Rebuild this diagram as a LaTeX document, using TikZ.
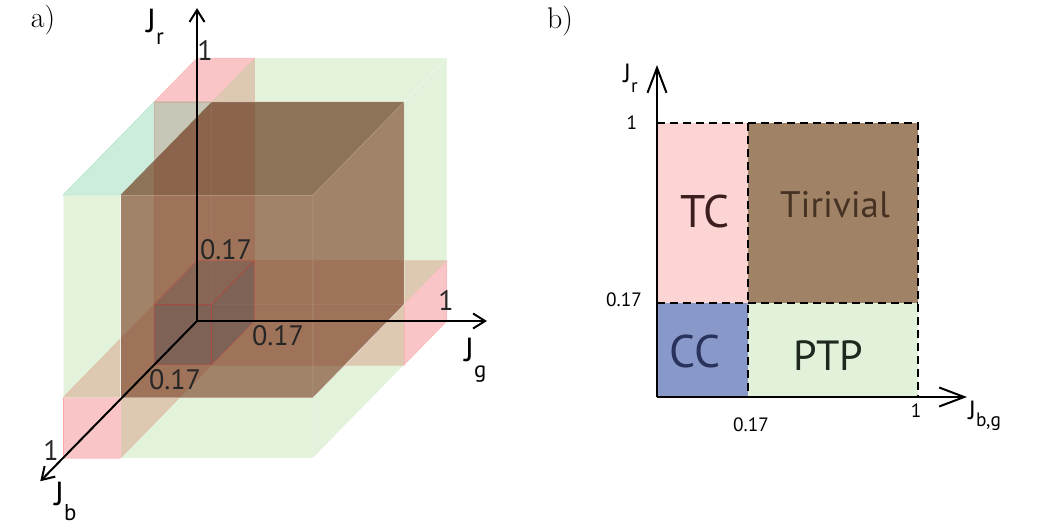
\documentclass[tikz,border=0pt]{standalone}
\usepackage{fontspec}
\newfontfamily\labelfont{PT Sans}
\usetikzlibrary{arrows.meta}

\definecolor{tcpink}{RGB}{252,212,212}
\definecolor{ccblue}{RGB}{136,152,200}
\definecolor{trivbrown}{RGB}{160,131,102}
\definecolor{ptpgreen}{RGB}{226,242,218}
\definecolor{tcbase}{RGB}{240,110,115}
\definecolor{ptpbase}{RGB}{150,210,125}
\definecolor{ptpcyan}{RGB}{100,200,150}
\definecolor{ccbase}{RGB}{55,58,80}
\definecolor{trivfrontc}{RGB}{125,71,43}
\definecolor{trivtopc}{RGB}{97,48,21}
\definecolor{tctext}{RGB}{60,30,30}
\definecolor{trivtext}{RGB}{70,50,35}
\definecolor{cctext}{RGB}{40,50,90}
\definecolor{ptptext}{RGB}{30,40,30}

% cut values of the couplings, as drawn
\newcommand{\cutb}{0.32}
\newcommand{\cutg}{0.23}
\newcommand{\cutr}{0.23}

% visible faces of a box: front, top and right styles, then b0,b1,g0,g1,r0,r1
\newcommand{\phasebox}[9]{%
  \path[#1] (#5,#6,#8) -- (#5,#7,#8) -- (#5,#7,#9) -- (#5,#6,#9) -- cycle;
  \path[#2] (#4,#6,#9) -- (#4,#7,#9) -- (#5,#7,#9) -- (#5,#6,#9) -- cycle;
  \path[#3] (#4,#7,#8) -- (#5,#7,#8) -- (#5,#7,#9) -- (#4,#7,#9) -- cycle;
}
% J with a lowered index: index, its size, how far down
\newcommand{\jsub}[3]{J\raisebox{-#3}{\fontsize{#2}{#2}\selectfont #1}}

\tikzset{
  tcface/.style={fill=tcbase, fill opacity=0.4, draw=red!60, draw opacity=0.3, line width=0.3pt},
  ptpface/.style={fill=ptpbase, fill opacity=0.28, draw=white, draw opacity=0.5, line width=0.3pt},
  ptptop/.style={fill=ptpcyan, fill opacity=0.33, draw=ptpcyan, draw opacity=0.4, line width=0.3pt},
  ccface/.style={fill=ccbase, fill opacity=0.3, draw=red!80, draw opacity=0.25, line width=0.4pt},
  cctop/.style={fill=ccbase, fill opacity=0.22, draw=red!80, draw opacity=0.25, line width=0.4pt},
  trivfront/.style={fill=trivfrontc, fill opacity=0.65, draw=white, draw opacity=0.25, line width=0.3pt},
  trivtop/.style={fill=trivtopc, fill opacity=0.65},
  axis3d/.style={line width=0.04cm, -{Straight Barb[length=0.24cm,width=0.3cm]}},
  axis2d/.style={line width=0.04cm, -{Straight Barb[length=0.5cm,width=0.38cm]}},
  phaseline/.style={line width=0.03cm, dash pattern=on 0.16cm off 0.1cm},
  ticklab/.style={font=\labelfont\fontsize{16}{16}\selectfont, text=black!85},
  axislab/.style={anchor=base west, inner sep=0pt, font=\labelfont\fontsize{19}{19}\selectfont},
  axislabb/.style={anchor=base west, inner sep=0pt, font=\labelfont\fontsize{15}{15}\selectfont},
  smalltick/.style={font=\labelfont\fontsize{11}{11}\selectfont},
  phasename/.style={inner sep=0pt}
}

\begin{document}
\begin{tikzpicture}[x=0.02cm, y=-0.02cm, every node/.style={font=\labelfont}]
\useasboundingbox (0,0) rectangle (1050,525);

% a) phase diagram in 3D
\node (alabel) at (43,20) {\rmfamily\fontsize{17}{17}\selectfont a)};
\begin{scope}[shift={(197,321)}, x={(-2.68cm,-2.74cm)}, y={(5cm,0cm)}, z={(0cm,5.26cm)}]
  \phasebox{tcface}{tcface}{tcface}{0}{\cutb}{0}{\cutg}{\cutr}{1}
  \phasebox{tcface}{tcface}{tcface}{0}{\cutb}{\cutg}{1}{0}{\cutr}
  \phasebox{tcface}{tcface}{tcface}{\cutb}{1}{0}{\cutg}{0}{\cutr}
  \phasebox{ptpface}{ptpface}{ptpface}{0}{\cutb}{\cutg}{1}{\cutr}{1}
  \phasebox{ptpface}{ptptop}{ptpface}{\cutb}{1}{0}{\cutg}{\cutr}{1}
  \phasebox{ptpface}{ptpface}{ptpface}{\cutb}{1}{\cutg}{1}{0}{\cutr}
  \phasebox{trivfront}{trivtop}{trivfront}{\cutb}{1}{\cutg}{1}{\cutr}{1}
  % CC corner, shaded over the rest
  \phasebox{ccface}{cctop}{ccface}{0}{\cutb}{0}{\cutg}{0}{\cutr}
  \coordinate (O) at (0,0,0);
  \coordinate (bTip) at (1.17,0,0);
  \coordinate (gTip) at (0,1.16,0);
  \coordinate (rTip) at (0,0,1.19);
\end{scope}
\draw[axis3d] (O) -- (rTip);
\draw[axis3d] (O) -- (gTip);
\draw[axis3d] (O) -- (bTip);
\node[axislab] (jr) at (146,32) {\jsub{r}{13}{0.38em}};
\node[axislab] (jg) at (464,361) {\jsub{g}{13}{0.5em}};
\node[axislab] (jb) at (54,505) {\jsub{b}{13}{0.45em}};
\node[ticklab] (r1) at (205,50) {1};
\node[ticklab] (r017) at (226,250) {0.17};
\node[ticklab] (g1) at (446,300) {1};
\node[ticklab] (g017) at (278,336) {0.17};
\node[ticklab] (b1) at (51,450) {1};
\node[ticklab] (b017) at (175,380) {0.17};

% b) cut through the diagonal J_b = J_g
\node (blabel) at (560,21) {\rmfamily\fontsize{17}{17}\selectfont b)};
\coordinate (q00) at (657,397);
\coordinate (q10) at (748,397);
\coordinate (q20) at (918,397);
\coordinate (q01) at (657,303);
\coordinate (q11) at (748,303);
\coordinate (q21) at (918,303);
\coordinate (q02) at (657,123);
\coordinate (q12) at (748,123);
\coordinate (q22) at (918,123);
\coordinate (xTip) at (967,397);
\coordinate (yTip) at (657,65);
\fill[tcpink] (q01) rectangle (q12);
\fill[ccblue] (q00) rectangle (q11);
\fill[trivbrown] (q11) rectangle (q22);
\fill[ptpgreen] (q10) rectangle (q21);
\draw[phaseline] (q02) -- (q22) -- (q20);
\draw[phaseline] (q01) -- (q21);
\draw[phaseline] (q12) -- (q10);
\draw[axis2d] (q00) -- (xTip);
\draw[axis2d] (q00) -- (yTip);
\node[axislabb] (jr2) at (623,82) {\jsub{r}{11}{0.4em}};
\node[axislabb] (jbg) at (968,419) {\jsub{b,g}{11}{0.3em}};
\node[smalltick] (y1) at (632,123) {1};
\node[smalltick] (y017) at (624,300) {0.17};
\node[smalltick] (x017) at (751,425) {0.17};
\node[smalltick] (x1) at (916,411) {1};
\node[phasename, text=tctext, font=\labelfont\fontsize{26}{26}\selectfont] (tc) at (705,212) {TC};
\node[phasename, text=trivtext, font=\labelfont\fontsize{21}{21}\selectfont] (triv) at (835,205) {Tirivial};
\node[phasename, text=cctext, font=\labelfont\fontsize{26}{26}\selectfont] (cc) at (695,351) {CC};
\node[phasename, text=ptptext, font=\labelfont\fontsize{24}{24}\selectfont] (ptp) at (828,356) {PTP};
\end{tikzpicture}
\end{document}
